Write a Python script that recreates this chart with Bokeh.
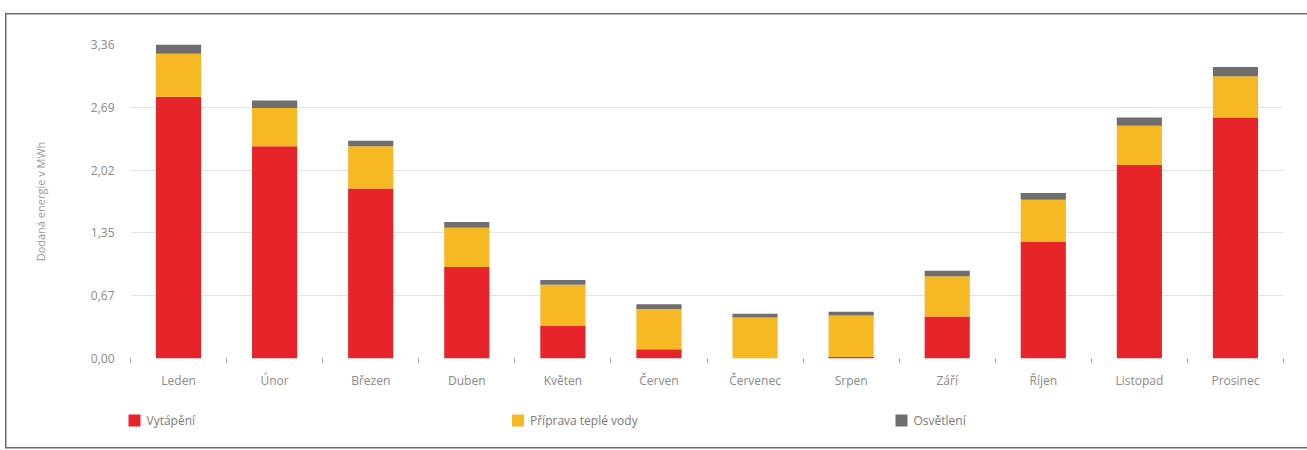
from bokeh.plotting import figure
from bokeh.layouts import column
from bokeh.models import ColumnDataSource, Range1d, FixedTicker
from bokeh.core.properties import value
from bokeh.embed import file_html
from bokeh.resources import INLINE

# Monthly delivered energy (MWh) by use
months = ["Leden", "Únor", "Březen", "Duben", "Květen", "Červen",
          "Červenec", "Srpen", "Září", "Říjen", "Listopad", "Prosinec"]
vytapeni = [2.80, 2.27, 1.82, 0.98, 0.35, 0.10, 0.00, 0.02, 0.45, 1.25, 2.07, 2.58]
voda = [0.46, 0.41, 0.45, 0.42, 0.44, 0.43, 0.44, 0.44, 0.43, 0.45, 0.42, 0.44]
osvetleni = [0.10, 0.08, 0.06, 0.06, 0.05, 0.05, 0.04, 0.04, 0.06, 0.07, 0.09, 0.10]

series = ["vytapeni", "voda", "osvetleni"]
series_labels = ["Vytápění", "Příprava teplé vody", "Osvětlení"]
colors = ["#e8242b", "#f6b924", "#6e6e6e"]

y_ticks = [0.0, 0.672, 1.344, 2.016, 2.688, 3.36]
y_tick_labels = ["0,00", "0,67", "1,35", "2,02", "2,69", "3,36"]

FONT = "Open Sans"
TEXT = "#8a8a8a"
W = 1307

x_pos = [i + 0.5 for i in range(len(months))]
source = ColumnDataSource(dict(x=x_pos, vytapeni=vytapeni, voda=voda, osvetleni=osvetleni))

p = figure(width=W, height=400, output_backend="svg", toolbar_location=None,
           x_range=Range1d(0, len(months)), y_range=Range1d(0, 3.36),
           min_border_left=130, min_border_right=24, min_border_top=44, min_border_bottom=42)
p.outline_line_color = None
p.background_fill_color = "white"
p.border_fill_alpha = 0
p.frame_align = False

renderers = p.vbar_stack(series, x="x", width=0.47, source=source, color=colors,
                         line_color=None)

# x axis: labels at bar centres, small ticks between months
xa = p.xaxis[0]
xa.ticker = FixedTicker(ticks=x_pos, minor_ticks=list(range(len(months) + 1)))
xa.major_label_overrides = {x: m for x, m in zip(x_pos, months)}
xa.major_tick_line_color = None
xa.minor_tick_out = 4
xa.minor_tick_in = 0
xa.minor_tick_line_color = "#9a9a9a"
xa.axis_line_color = None
xa.major_label_standoff = 7
xa.major_label_text_font = FONT
xa.major_label_text_font_size = "12px"
xa.major_label_text_color = TEXT

ya = p.yaxis[0]
ya.ticker = FixedTicker(ticks=y_ticks)
ya.major_label_overrides = {t: l for t, l in zip(y_ticks, y_tick_labels)}
ya.major_tick_line_color = None
ya.minor_tick_line_color = None
ya.axis_line_color = None
ya.major_label_standoff = 10
ya.major_label_text_font = FONT
ya.major_label_text_font_size = "12px"
ya.major_label_text_color = TEXT
ya.axis_label = "Dodaná energie v MWh"
ya.axis_label_text_font = FONT
ya.axis_label_text_font_style = "normal"
ya.axis_label_text_font_size = "11px"
ya.axis_label_text_color = "#9a9a9a"
ya.axis_label_standoff = 40

p.xgrid.grid_line_color = None
p.ygrid.ticker = FixedTicker(ticks=y_ticks)
p.ygrid.grid_line_color = "#e3e3e3"
p.ygrid.grid_line_width = 1.2

# legend strip: three entries in equal columns below the chart (pixel coordinates)
pl = figure(width=W, height=50, output_backend="svg", toolbar_location=None,
            x_range=Range1d(0, W), y_range=Range1d(50, 0),
            x_axis_location=None, y_axis_location=None,
            min_border=0)
pl.outline_line_color = None
pl.background_fill_alpha = 0
pl.border_fill_alpha = 0
pl.grid.grid_line_color = None
pl.frame_align = False

key_x = [134 + 383.5 * i for i in range(3)]
key_src = ColumnDataSource(dict(x=key_x, tx=[k + 12 for k in key_x], y=[20] * 3,
                                label=series_labels, color=colors))
pl.scatter("x", "y", source=key_src, marker="square", size=12,
           fill_color="color", line_color=None)
pl.text("tx", "y", text="label", source=key_src, text_font=value(FONT),
        text_font_size="12px", text_color="#7a7a7a", text_baseline="middle")

layout = column(p, pl, spacing=0)
# thin panel frame around the whole chart, painted as the element's background
edge = "linear-gradient(#6a6a6a,#6a6a6a)"
layout.styles = {
    "background": (f"{edge} 5px 13px / 1302px 1.5px no-repeat, "
                   f"{edge} 5px 13px / 1.5px 435px no-repeat, "
                   f"{edge} 5px 447px / 1302px 1.5px no-repeat, white"),
}

open("out.html", "w").write(file_html(layout, INLINE))
